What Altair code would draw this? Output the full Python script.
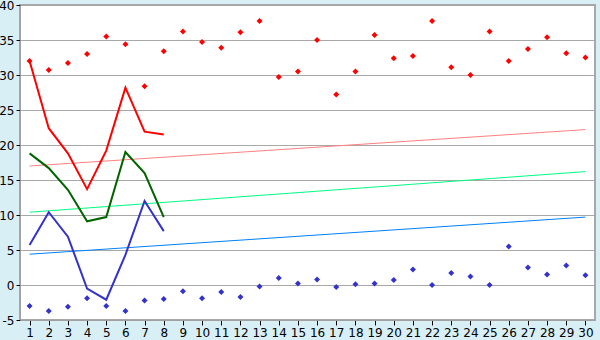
import altair as alt
import pandas as pd

days = list(range(1, 31))
max_t = [32.0, 30.7, 31.7, 33.0, 35.5, 34.4, 28.4, 33.4, 36.2, 34.7,
         33.9, 36.1, 37.7, 29.7, 30.5, 35.0, 27.2, 30.5, 35.7, 32.4,
         32.7, 37.7, 31.1, 30.0, 36.2, 32.0, 33.7, 35.4, 33.1, 32.5]
min_t = [-3.0, -3.7, -3.1, -1.9, -3.0, -3.7, -2.2, -2.0, -0.9, -1.9,
         -1.0, -1.7, -0.2, 1.0, 0.2, 0.8, -0.3, 0.1, 0.2, 0.7,
         2.2, 0.0, 1.7, 1.2, 0.0, 5.5, 2.5, 1.5, 2.8, 1.4]

line_days = [1, 2, 3, 4, 5, 6, 7, 8]
red_line = [32.0, 22.4, 18.8, 13.7, 19.2, 28.2, 21.9, 21.5]
green_line = [18.8, 16.7, 13.6, 9.1, 9.7, 19.0, 16.0, 9.7]
blue_line = [5.7, 10.4, 6.9, -0.5, -2.1, 4.3, 12.0, 7.7]

trend_days = [1, 30]
red_trend = [17.0, 22.2]
green_trend = [10.4, 16.2]
blue_trend = [4.4, 9.7]

y_ticks = [-5, 0, 5, 10, 15, 20, 25, 30, 35, 40]

pts = pd.DataFrame({
    "day": days * 2,
    "val": max_t + min_t,
    "s": ["max"] * 30 + ["min"] * 30,
})
lines = pd.DataFrame({
    "day": line_days * 3,
    "val": red_line + green_line + blue_line,
    "s": ["rl"] * 8 + ["gl"] * 8 + ["bl"] * 8,
})
trends = pd.DataFrame({
    "day": trend_days * 3,
    "val": red_trend + green_trend + blue_trend,
    "s": ["rt"] * 2 + ["gt"] * 2 + ["bt"] * 2,
})

color = alt.Color("s:N", legend=None, scale=alt.Scale(
    domain=["max", "min", "rl", "gl", "bl", "rt", "gt", "bt"],
    range=["#FF0000", "#3333CC", "#FF0000", "#006400", "#3333CC",
           "#FF8080", "#00FF80", "#0080FF"]))

x = alt.X("day:Q", scale=alt.Scale(domain=[0.5, 30.5], nice=False, zero=False),
          axis=alt.Axis(values=days, title=None, grid=False, tickColor="#000000",
                        tickSize=5, domainColor="#A0A0A0", labelPadding=2,
                        labelFontSize=12, labelColor="#000000", format="d"))
y = alt.Y("val:Q", scale=alt.Scale(domain=[-5, 40], nice=False, zero=False),
          axis=alt.Axis(values=y_ticks, title=None, grid=True, gridColor="#A8A8A8",
                        gridWidth=1, tickColor="#000000", tickSize=4,
                        domainColor="#A0A0A0", labelPadding=2, labelFontSize=12,
                        labelColor="#000000", labelExpr="'' + datum.value"))

trend_layer = alt.Chart(trends).mark_line(strokeWidth=1).encode(
    x=x, y=y, color=color, detail="s:N")
line_layer = alt.Chart(lines).mark_line(strokeWidth=2).encode(
    x=x, y=y, color=color, detail="s:N")
point_layer = alt.Chart(pts).mark_point(shape="diamond", filled=True, size=36, opacity=1).encode(
    x=x, y=y, color=color)

chart = alt.layer(trend_layer, line_layer, point_layer).properties(
    width=575, height=315,
    background="#D9EFF6",
    padding={"left": 20, "top": 5, "right": 5, "bottom": 20},
    autosize=alt.AutoSizeParams(type="none"),
).configure_view(
    fill="#FFFFFF", stroke="#A8A8A8", strokeWidth=2
).configure_axis(
    labelFont="DejaVu Sans"
)

chart.save("out.html", embed_options={"renderer": "svg", "actions": False})
